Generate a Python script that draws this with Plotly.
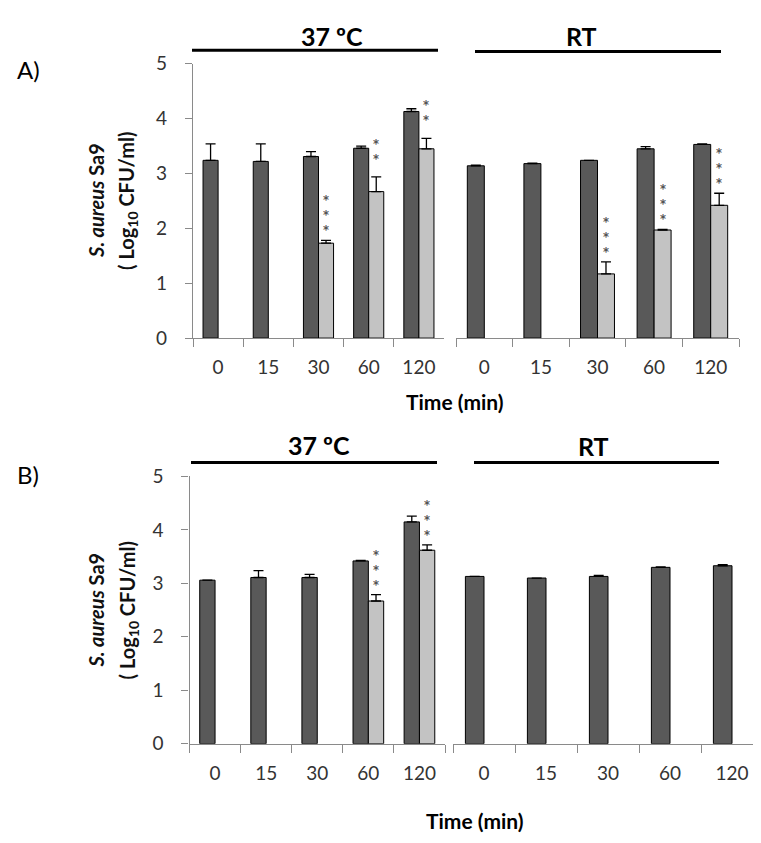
import plotly.graph_objects as go

# ---------------- data ----------------
times = ["0", "15", "30", "60", "120"]

a37_ctrl = [3.24, 3.22, 3.31, 3.46, 4.13]
a37_ctrl_err = [0.30, 0.32, 0.09, 0.04, 0.05]
a37_trt = [None, None, 1.73, 2.67, 3.45]
a37_trt_err = [0, 0, 0.05, 0.27, 0.19]
a37_stars = ["", "", "***", "**", "**"]

art_ctrl = [3.14, 3.18, 3.24, 3.45, 3.53]
art_ctrl_err = [0.01, 0.01, 0.0, 0.04, 0.01]
art_trt = [None, None, 1.17, 1.97, 2.42]
art_trt_err = [0, 0, 0.22, 0.01, 0.22]
art_stars = ["", "", "***", "***", "***"]

b37_ctrl = [3.06, 3.11, 3.11, 3.42, 4.15]
b37_ctrl_err = [0.0, 0.13, 0.06, 0.01, 0.11]
b37_trt = [None, None, None, 2.67, 3.62]
b37_trt_err = [0, 0, 0, 0.12, 0.10]
b37_stars = ["", "", "", "***", "***"]

brt_ctrl = [3.13, 3.10, 3.13, 3.30, 3.33]
brt_ctrl_err = [0.0, 0.0, 0.02, 0.01, 0.02]
brt_trt = [None, None, None, None, None]
brt_trt_err = [0, 0, 0, 0, 0]
brt_stars = ["", "", "", "", ""]

y_ticks = [0, 1, 2, 3, 4, 5]
header_37 = "37 ºC"
header_rt = "RT"
x_title = "Time (min)"

# ---------------- style ----------------
FONT = "Lato, 'Liberation Sans', sans-serif"
DARK = "#595959"
LIGHT = "#c3c3c3"
AXIS = "#8a8a8a"
W, H = 761, 843
BAR_FRAC = 0.3  # each bar takes 30% of a category (bargap 0.4, two bars)

fig = go.Figure()

panels = [
    ("x", "y", a37_ctrl, a37_ctrl_err, a37_trt, a37_trt_err, a37_stars),
    ("x2", "y2", art_ctrl, art_ctrl_err, art_trt, art_trt_err, art_stars),
    ("x3", "y3", b37_ctrl, b37_ctrl_err, b37_trt, b37_trt_err, b37_stars),
    ("x4", "y4", brt_ctrl, brt_ctrl_err, brt_trt, brt_trt_err, brt_stars),
]

annotations = []
for xa, ya, ctrl, cerr, trt, terr, stars in panels:
    fig.add_trace(go.Bar(
        x=times, y=ctrl, xaxis=xa, yaxis=ya, offsetgroup="c",
        marker=dict(color=DARK, line=dict(color="black", width=1)),
        error_y=dict(type="data", array=cerr, arrayminus=[0] * 5, symmetric=False,
                     color="black", thickness=1.3, width=5),
        showlegend=False, hoverinfo="skip"))
    fig.add_trace(go.Bar(
        x=times, y=trt, xaxis=xa, yaxis=ya, offsetgroup="t",
        marker=dict(color=LIGHT, line=dict(color="black", width=1)),
        error_y=dict(type="data", array=terr, arrayminus=[0] * 5, symmetric=False,
                     color="black", thickness=1.3, width=5),
        showlegend=False, hoverinfo="skip"))
    for i, s in enumerate(stars):
        if not s or trt[i] is None:
            continue
        base = trt[i] + terr[i]
        extra = 8 if len(s) == 2 else 0
        annotations.append(dict(
            x=i + BAR_FRAC / 2, y=base, xref=xa, yref=ya,
            text="<b>" + "<br>".join(["*"] * len(s)) + "</b>", showarrow=False,
            yshift=2 + extra, yanchor="bottom", xanchor="center", borderpad=0,
            font=dict(family="DejaVu Sans", size=11.5, color="#555555")))

def px_x(p):
    return p / W

def px_y(p):
    return 1 - p / H

xdom = {
    "x": [px_x(185), px_x(436)],
    "x2": [px_x(448), px_x(731)],
    "x3": [px_x(181.5), px_x(437)],
    "x4": [px_x(445), px_x(755)],
}
ydomA = [px_y(327), px_y(45)]
ydomB = [px_y(744), px_y(469.3)]

xcommon = dict(type="category", showline=True, linecolor=AXIS, linewidth=1.3,
               ticks="outside", tickson="boundaries", ticklen=8, tickcolor=AXIS,
               tickwidth=1.3, showgrid=False, zeroline=False, ticklabelstandoff=12,
               tickfont=dict(family=FONT, size=19, color="#333333"),
               range=[-0.5, 4.5], fixedrange=True)
ycommon = dict(range=[0, 5], tickvals=y_ticks, showline=True, linecolor=AXIS,
               linewidth=1.3, ticks="outside", ticklen=7, tickcolor=AXIS, tickwidth=1.3,
               showgrid=False, zeroline=False, ticklabelstandoff=14,
               tickfont=dict(family=FONT, size=19, color="#333333"), fixedrange=True)

layout = dict(
    width=W, height=H, margin=dict(l=0, r=0, t=0, b=0),
    paper_bgcolor="white", plot_bgcolor="white",
    barmode="group", bargap=0.4, bargroupgap=0, showlegend=False,
    xaxis=dict(xcommon, domain=xdom["x"], anchor="y"),
    xaxis2=dict(xcommon, domain=xdom["x2"], anchor="y2"),
    xaxis3=dict(xcommon, domain=xdom["x3"], anchor="y3"),
    xaxis4=dict(xcommon, domain=xdom["x4"], anchor="y4"),
    yaxis=dict(ycommon, domain=ydomA, anchor="x"),
    yaxis2=dict(ycommon, domain=ydomA, anchor="x2", visible=False),
    yaxis3=dict(ycommon, domain=ydomB, anchor="x3"),
    yaxis4=dict(ycommon, domain=ydomB, anchor="x4", visible=False),
)
fig.update_layout(**layout)

shapes = []
headers = [
    (header_37, 324, 16, 184, 430, 31),
    (header_rt, 573, 16, 467, 713, 32.5),
    (header_37, 311, 437, 183, 429, 455),
    (header_rt, 585, 438, 466, 711, 455),
]
for txt, cx, cy, x0, x1, ly in headers:
    annotations.append(dict(x=px_x(cx), y=px_y(cy), xref="paper", yref="paper",
                            text="<b>%s</b>" % txt, showarrow=False,
                            xanchor="center", yanchor="middle",
                            font=dict(family=FONT, size=25, color="black")))
    shapes.append(dict(type="line", xref="paper", yref="paper",
                       x0=px_x(x0), x1=px_x(x1), y0=px_y(ly), y1=px_y(ly),
                       line=dict(color="black", width=3)))

for txt, cx, cy in [("A)", 20, 51), ("B)", 20, 467)]:
    annotations.append(dict(x=px_x(cx), y=px_y(cy), xref="paper", yref="paper",
                            text=txt, showarrow=False, xanchor="center", yanchor="middle",
                            font=dict(family=FONT, size=24, color="black")))

for cy in [186, 607]:
    annotations.append(dict(x=px_x(88), y=px_y(cy), xref="paper", yref="paper",
                            text="<b><i>S. aureus</i> Sa9</b>", showarrow=False,
                            textangle=-90, xanchor="center", yanchor="middle",
                            font=dict(family=FONT, size=20, color="#111111")))
    annotations.append(dict(x=px_x(120), y=px_y(cy), xref="paper", yref="paper",
                            text="<b>( Log<sub>10</sub> CFU/ml)</b>", showarrow=False,
                            textangle=-90, xanchor="center", yanchor="middle",
                            font=dict(family=FONT, size=20, color="#111111")))

for cx, cy in [(447, 392), (467, 823)]:
    annotations.append(dict(x=px_x(cx), y=px_y(cy), xref="paper", yref="paper",
                            text="<b>%s</b>" % x_title, showarrow=False,
                            xanchor="center", yanchor="middle",
                            font=dict(family=FONT, size=21, color="black")))

fig.update_layout(annotations=annotations, shapes=shapes)
fig.write_html("out.html")
